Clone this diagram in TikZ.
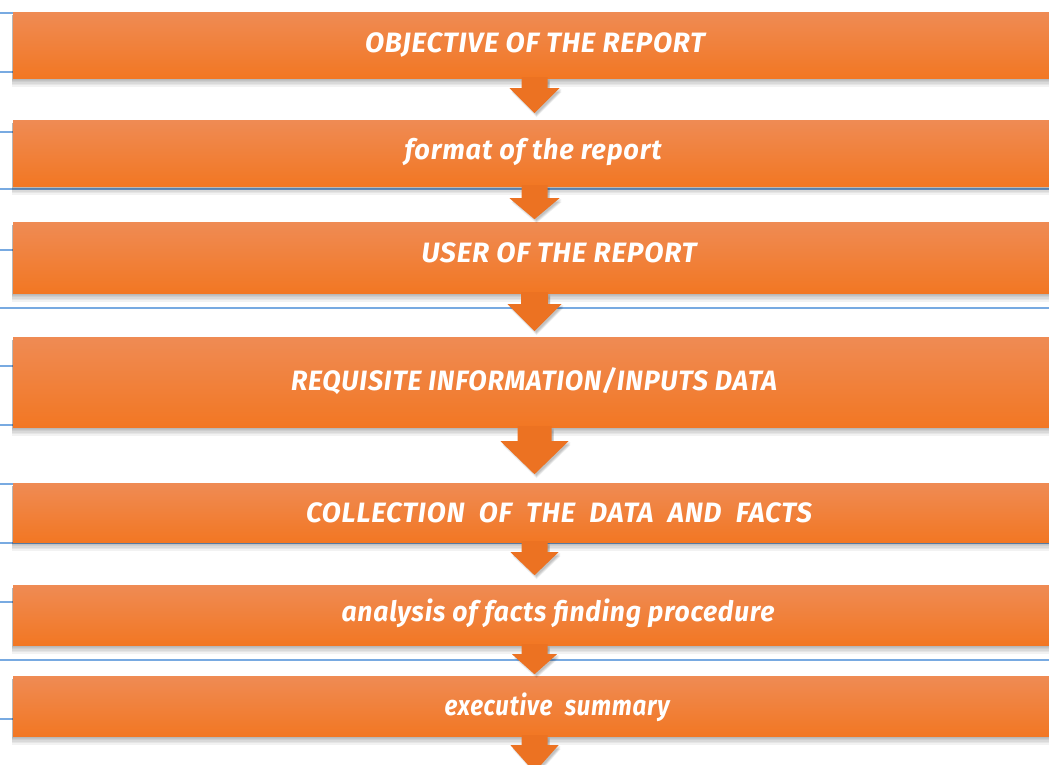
\documentclass[tikz,border=0pt]{standalone}
\usepackage{fontspec}
\setmainfont{Fira Sans}
\newfontfamily\boxfont[LetterSpace=3]{Fira Sans}
\usetikzlibrary{calc,backgrounds}
\definecolor{orTop}{RGB}{239,139,84}
\definecolor{orBot}{RGB}{242,119,35}
\definecolor{arrC}{RGB}{236,114,34}
\definecolor{blC}{RGB}{120,170,225}
\newsavebox\tbox
\newcommand\fitw[2]{\sbox\tbox{#2}\pgfmathsetmacro\fsx{#1/\wd\tbox}\scalebox{\fsx}[1]{\usebox\tbox}}
\tikzset{
  boxshape/.style={minimum width=1047pt, minimum height=#1, inner sep=0pt, top color=orTop, bottom color=orBot, draw=none},
  lbl/.style={text=white, font=\boxfont\bfseries\itshape\fontsize{28}{32}\selectfont, inner sep=0pt, anchor=base},
  bline/.style={draw=blC, line width=1.1pt},
  shd/.style={fill=black, opacity=0.05},
}
\newcommand\boxshadow[1]{%
  \foreach \k in {1,...,6}{\fill[shd] ($(#1.north west)+(-1,3)$) rectangle ($(#1.south east)+(2,{\k*1.4})$);}}
\newcommand\blockarrow[6]{% name, source node, stem half, head top, head half, tip
  \path (#2.south -| cx) coordinate (#1);
  \foreach \k in {1,...,5}{\fill[shd] ($(#1)+({-#3+2},{\k*0.8})$) -- ($(#1)+({-#3+2},{#4+\k*0.8})$) -- ($(#1)+({-#5+2},{#4+\k*0.8})$) -- ($(#1)+(2,{#6+\k*0.8})$) -- ($(#1)+({#5+2},{#4+\k*0.8})$) -- ($(#1)+({#3+2},{#4+\k*0.8})$) -- ($(#1)+({#3+2},{\k*0.8})$) -- cycle;}
  \fill[arrC] ($(#1)+(-#3,-1)$) -- ($(#1)+(-#3,#4)$) -- ($(#1)+(-#5,#4)$) -- ($(#1)+(0,#6)$) -- ($(#1)+(#5,#4)$) -- ($(#1)+(#3,#4)$) -- ($(#1)+(#3,-1)$) -- cycle;}
\begin{document}
\begin{tikzpicture}[x=1pt,y=-1pt]
\useasboundingbox (0,0) rectangle (1049,764);
\coordinate (cx) at (534.5,0);
% boxes
\path (536.5,45) node[boxshape=66pt] (b1) {};
\path (536.5,153) node[boxshape=66pt] (b2) {};
\path (536.5,257.5) node[boxshape=71pt] (b3) {};
\path (536.5,382) node[boxshape=90pt] (b4) {};
\path (536.5,512.5) node[boxshape=59pt] (b5) {};
\path (536.5,615) node[boxshape=60pt] (b6) {};
\path (536.5,706) node[boxshape=60pt] (b7) {};
\begin{pgfonlayer}{background}
\fill[white] (0,0) rectangle (1049,764);
\foreach \yy in {189,308,543,660}{\draw[bline] (0,\yy) -- (1049,\yy);}
\foreach \yy in {13,72,132,250,366,425,484,602,719}{\draw[bline] (0,\yy) -- (14,\yy);}
\foreach \b in {b1,b2,b3,b4,b5,b6,b7}{\boxshadow{\b}}
\end{pgfonlayer}
% arrows
\blockarrow{a1}{b1}{13}{10}{25}{35}
\blockarrow{a2}{b2}{13}{12}{25}{33}
\blockarrow{a3}{b3}{13.5}{11}{27}{38}
\blockarrow{a4}{b4}{17}{14}{34}{47}
\blockarrow{a5}{b5}{13}{10}{24}{33}
\blockarrow{a6}{b6}{13}{9}{22.5}{29}
\blockarrow{a7}{b7}{13}{9}{24}{36}
% labels
\node[lbl] (t1) at (535,52) {\fitw{340}{OBJECTIVE OF THE REPORT}};
\node[lbl] (t2) at (533,159) {\fitw{257}{format of the report}};
\node[lbl] (t3) at (559,262) {\fitw{275}{USER OF THE REPORT}};
\node[lbl] (t4) at (534,390) {\fitw{486}{REQUISITE INFORMATION/INPUTS DATA}};
\node[lbl] (t5) at (559,522) {\fitw{506}{COLLECTION\ \ OF\ \ THE\ \ DATA\ \ AND\ \ FACTS}};
\node[lbl] (t6) at (558,621) {\fitw{433}{analysis of facts finding procedure}};
\node[lbl] (t7) at (557,715) {\fitw{225}{executive\ \ summary}};
\end{tikzpicture}
\end{document}
